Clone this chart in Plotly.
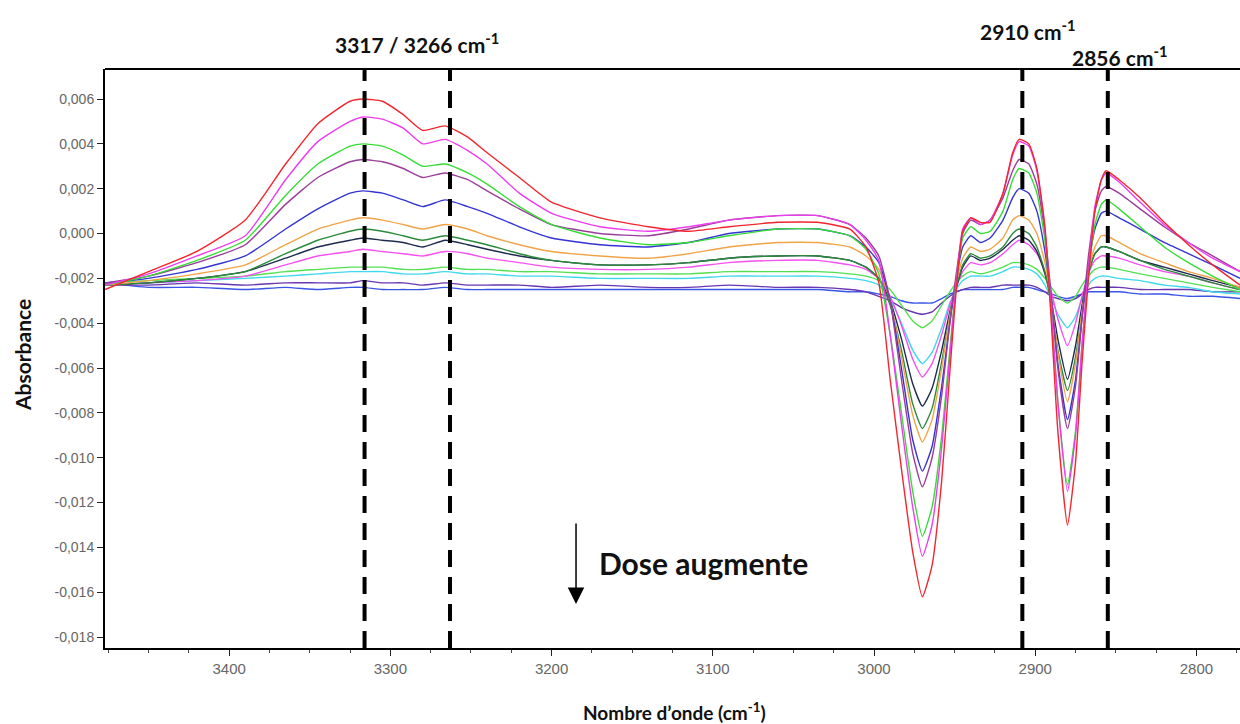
import plotly.graph_objects as go

wavenumber = [3477, 3450, 3420, 3390, 3365, 3345, 3325, 3317, 3305, 3292,
              3280, 3266, 3252, 3240, 3220, 3200, 3170, 3140, 3115, 3090,
              3060, 3035, 3015, 3005, 2997, 2990, 2983, 2976, 2970, 2964,
              2958, 2953, 2949, 2945, 2940, 2934, 2928, 2920, 2914, 2910,
              2904, 2899, 2894, 2890, 2886, 2880, 2875, 2871, 2867, 2863,
              2859, 2856, 2848, 2835, 2820, 2805, 2790, 2773]

red = [-0.0025, -0.0017, -0.0008, 0.0006, 0.0031, 0.0049, 0.0059, 0.0060, 0.0059, 0.0053,
       0.0046, 0.0048, 0.0043, 0.0036, 0.0025, 0.0014, 0.0007, 0.0003, 0.0001, 0.0003,
       0.0005, 0.0005, 0.0002, -0.0006, -0.0022, -0.0065, -0.0105, -0.0142, -0.0162, -0.0148,
       -0.0110, -0.0062, -0.0025, 0.0001, 0.0007, 0.0005, 0.0005, 0.0018, 0.0036, 0.0042,
       0.0040, 0.0029, 0.0003, -0.0040, -0.0088, -0.0130, -0.0102, -0.0058, -0.0020, 0.0010,
       0.0024, 0.0028, 0.0024, 0.0016, 0.0005, -0.0005, -0.0014, -0.0023]

magenta = [-0.0023, -0.0018, -0.0010, -0.0001, 0.0024, 0.0041, 0.0050, 0.0052, 0.0051, 0.0047,
           0.0040, 0.0042, 0.0037, 0.0031, 0.0018, 0.0009, 0.0003, 0.0001, 0.0003, 0.0006,
           0.0008, 0.0008, 0.0004, -0.0003, -0.0012, -0.0045, -0.0085, -0.0122, -0.0144, -0.0130,
           -0.0095, -0.0055, -0.0022, 0.0002, 0.0007, 0.0004, 0.0006, 0.0018, 0.0035, 0.0041,
           0.0039, 0.0028, 0.0002, -0.0035, -0.0075, -0.0115, -0.0090, -0.0050, -0.0015, 0.0012,
           0.0024, 0.0027, 0.0023, 0.0014, 0.0004, -0.0004, -0.0011, -0.0017]

green = [-0.0023, -0.0019, -0.0012, -0.0003, 0.0017, 0.0031, 0.0039, 0.0040, 0.0039, 0.0035,
         0.0030, 0.0031, 0.0027, 0.0022, 0.0012, 0.0004, -0.0002, -0.0005, -0.0004, -0.0001,
         0.0002, 0.0002, -0.0001, -0.0007, -0.0018, -0.0045, -0.0080, -0.0115, -0.0135, -0.0122,
         -0.0090, -0.0052, -0.0022, -0.0002, 0.0003, 0.0000, 0.0001, 0.0010, 0.0024, 0.0029,
         0.0027, 0.0018, -0.0003, -0.0035, -0.0075, -0.0112, -0.0088, -0.0050, -0.0018, 0.0004,
         0.0013, 0.0015, 0.0011, 0.0003, -0.0006, -0.0013, -0.0019, -0.0025]

plum = [-0.0022, -0.0019, -0.0013, -0.0005, 0.0013, 0.0025, 0.0032, 0.0033, 0.0032, 0.0029,
        0.0025, 0.0027, 0.0024, 0.0019, 0.0011, 0.0004, 0.0000, -0.0001, 0.0002, 0.0006,
        0.0008, 0.0008, 0.0004, -0.0002, -0.0010, -0.0030, -0.0065, -0.0098, -0.0113, -0.0100,
        -0.0072, -0.0040, -0.0018, 0.0000, 0.0006, 0.0004, 0.0006, 0.0016, 0.0028, 0.0033,
        0.0031, 0.0022, 0.0000, -0.0028, -0.0060, -0.0087, -0.0068, -0.0038, -0.0010, 0.0010,
        0.0019, 0.0021, 0.0018, 0.0011, 0.0003, -0.0004, -0.0010, -0.0017]

blue = [-0.0022, -0.0020, -0.0016, -0.0010, 0.0002, 0.0011, 0.0018, 0.0019, 0.0018, 0.0015,
        0.0012, 0.0015, 0.0012, 0.0009, 0.0003, -0.0002, -0.0005, -0.0006, -0.0004, 0.0000,
        0.0002, 0.0002, -0.0001, -0.0006, -0.0013, -0.0030, -0.0060, -0.0092, -0.0106, -0.0095,
        -0.0068, -0.0040, -0.0020, -0.0006, -0.0001, -0.0004, -0.0002, 0.0006, 0.0016, 0.0020,
        0.0018, 0.0010, -0.0008, -0.0030, -0.0058, -0.0083, -0.0065, -0.0038, -0.0014, 0.0002,
        0.0009, 0.0010, 0.0007, 0.0002, -0.0004, -0.0009, -0.0014, -0.0020]

orange = [-0.0023, -0.0021, -0.0018, -0.0014, -0.0005, 0.0002, 0.0006, 0.0007, 0.0006, 0.0004,
          0.0002, 0.0004, 0.0002, -0.0001, -0.0005, -0.0008, -0.0010, -0.0011, -0.0009, -0.0006,
          -0.0004, -0.0004, -0.0006, -0.0010, -0.0016, -0.0030, -0.0055, -0.0081, -0.0093, -0.0083,
          -0.0060, -0.0037, -0.0022, -0.0011, -0.0006, -0.0008, -0.0007, -0.0002, 0.0006, 0.0008,
          0.0006, 0.0000, -0.0013, -0.0030, -0.0053, -0.0075, -0.0058, -0.0035, -0.0017, -0.0006,
          -0.0001, -0.0001, -0.0004, -0.0009, -0.0013, -0.0017, -0.0020, -0.0024]

dark_green = [-0.0023, -0.0022, -0.0020, -0.0017, -0.0009, -0.0003, 0.0001, 0.0002, 0.0001, -0.0001,
              -0.0003, -0.0001, -0.0003, -0.0005, -0.0009, -0.0012, -0.0014, -0.0014, -0.0013, -0.0011,
              -0.0010, -0.0010, -0.0012, -0.0015, -0.0020, -0.0032, -0.0052, -0.0076, -0.0087, -0.0078,
              -0.0057, -0.0037, -0.0024, -0.0014, -0.0009, -0.0011, -0.0010, -0.0006, 0.0000, 0.0002,
              0.0000, -0.0006, -0.0017, -0.0032, -0.0052, -0.0070, -0.0055, -0.0035, -0.0018, -0.0009,
              -0.0006, -0.0006, -0.0008, -0.0012, -0.0016, -0.0019, -0.0022, -0.0025]

navy = [-0.0023, -0.0022, -0.0020, -0.0017, -0.0011, -0.0006, -0.0003, -0.0002, -0.0003, -0.0004,
        -0.0006, -0.0003, -0.0005, -0.0007, -0.0010, -0.0012, -0.0014, -0.0014, -0.0013, -0.0011,
        -0.0010, -0.0010, -0.0012, -0.0015, -0.0020, -0.0030, -0.0047, -0.0067, -0.0077, -0.0069,
        -0.0052, -0.0035, -0.0024, -0.0015, -0.0010, -0.0012, -0.0011, -0.0007, -0.0003, -0.0001,
        -0.0003, -0.0008, -0.0018, -0.0030, -0.0047, -0.0065, -0.0050, -0.0032, -0.0017, -0.0009,
        -0.0006, -0.0006, -0.0008, -0.0012, -0.0015, -0.0018, -0.0021, -0.0024]

pink = [-0.0023, -0.0022, -0.0021, -0.0019, -0.0014, -0.0010, -0.0008, -0.0007, -0.0008, -0.0009,
        -0.0010, -0.0008, -0.0009, -0.0011, -0.0013, -0.0015, -0.0016, -0.0016, -0.0015, -0.0013,
        -0.0012, -0.0012, -0.0014, -0.0016, -0.0020, -0.0028, -0.0041, -0.0056, -0.0064, -0.0058,
        -0.0045, -0.0032, -0.0024, -0.0017, -0.0013, -0.0014, -0.0013, -0.0009, -0.0005, -0.0003,
        -0.0005, -0.0009, -0.0017, -0.0026, -0.0038, -0.0050, -0.0040, -0.0028, -0.0018, -0.0012,
        -0.0010, -0.0010, -0.0011, -0.0014, -0.0017, -0.0019, -0.0022, -0.0025]

lime = [-0.0022, -0.0021, -0.0020, -0.0019, -0.0017, -0.0016, -0.0015, -0.0015, -0.0015, -0.0016,
        -0.0016, -0.0015, -0.0016, -0.0016, -0.0017, -0.0017, -0.0018, -0.0018, -0.0018, -0.0017,
        -0.0017, -0.0017, -0.0018, -0.0019, -0.0021, -0.0025, -0.0032, -0.0039, -0.0042, -0.0039,
        -0.0032, -0.0026, -0.0022, -0.0019, -0.0017, -0.0018, -0.0017, -0.0015, -0.0013, -0.0013,
        -0.0014, -0.0016, -0.0020, -0.0024, -0.0028, -0.0031, -0.0028, -0.0023, -0.0019, -0.0016,
        -0.0015, -0.0015, -0.0016, -0.0018, -0.0020, -0.0022, -0.0024, -0.0026]

cyan = [-0.0023, -0.0022, -0.0021, -0.0020, -0.0019, -0.0018, -0.0017, -0.0017, -0.0017, -0.0018,
        -0.0018, -0.0017, -0.0018, -0.0018, -0.0019, -0.0019, -0.0020, -0.0020, -0.0020, -0.0019,
        -0.0019, -0.0019, -0.0020, -0.0021, -0.0023, -0.0029, -0.0040, -0.0052, -0.0058, -0.0053,
        -0.0042, -0.0031, -0.0025, -0.0021, -0.0019, -0.0019, -0.0019, -0.0017, -0.0015, -0.0015,
        -0.0016, -0.0018, -0.0023, -0.0029, -0.0036, -0.0042, -0.0037, -0.0029, -0.0023, -0.0020,
        -0.0019, -0.0019, -0.0020, -0.0021, -0.0023, -0.0024, -0.0026, -0.0027]

violet = [-0.0023, -0.0023, -0.0022, -0.0023, -0.0022, -0.0022, -0.0022, -0.0021, -0.0022, -0.0022,
          -0.0023, -0.0022, -0.0023, -0.0023, -0.0023, -0.0024, -0.0023, -0.0024, -0.0024, -0.0023,
          -0.0024, -0.0024, -0.0025, -0.0026, -0.0028, -0.0030, -0.0033, -0.0035, -0.0036, -0.0035,
          -0.0031, -0.0028, -0.0026, -0.0025, -0.0024, -0.0024, -0.0024, -0.0023, -0.0023, -0.0023,
          -0.0023, -0.0024, -0.0026, -0.0028, -0.0029, -0.0030, -0.0029, -0.0027, -0.0025, -0.0024,
          -0.0024, -0.0024, -0.0024, -0.0025, -0.0025, -0.0025, -0.0026, -0.0026]

blue_flat = [-0.0022, -0.0024, -0.0024, -0.0025, -0.0024, -0.0025, -0.0024, -0.0024, -0.0025, -0.0025,
             -0.0025, -0.0024, -0.0025, -0.0025, -0.0025, -0.0025, -0.0025, -0.0025, -0.0025, -0.0025,
             -0.0025, -0.0025, -0.0026, -0.0026, -0.0027, -0.0028, -0.0030, -0.0031, -0.0031, -0.0031,
             -0.0029, -0.0027, -0.0026, -0.0025, -0.0025, -0.0025, -0.0025, -0.0025, -0.0024, -0.0024,
             -0.0024, -0.0025, -0.0026, -0.0027, -0.0028, -0.0029, -0.0028, -0.0027, -0.0026, -0.0026,
             -0.0026, -0.0026, -0.0026, -0.0027, -0.0027, -0.0028, -0.0028, -0.0029]

series = [
    ("blue_flat", blue_flat, "#3a55e6"),
    ("violet", violet, "#6a35b0"),
    ("cyan", cyan, "#3fd8ec"),
    ("lime", lime, "#52e052"),
    ("pink", pink, "#f550f0"),
    ("navy", navy, "#1d2b4f"),
    ("dark_green", dark_green, "#2c8a3c"),
    ("orange", orange, "#f0a448"),
    ("blue", blue, "#3434d4"),
    ("plum", plum, "#9a3e9a"),
    ("green", green, "#36dc36"),
    ("magenta", magenta, "#ee3cee"),
    ("red", red, "#f2262e"),
]

y_ticks = [0.006, 0.004, 0.002, 0.0, -0.002, -0.004, -0.006, -0.008,
           -0.010, -0.012, -0.014, -0.016, -0.018]
y_tick_text = ["0,006", "0,004", "0,002", "0,000", "-0,002", "-0,004", "-0,006",
               "-0,008", "-0,010", "-0,012", "-0,014", "-0,016", "-0,018"]

marker_lines = [3316, 3263, 2908, 2855]

fig = go.Figure()
for name, vals, col in series:
    assert len(vals) == len(wavenumber), name
    fig.add_trace(go.Scatter(x=wavenumber, y=vals, mode="lines", name=name,
                             line=dict(color=col, width=1.4, shape="spline", smoothing=0.5),
                             showlegend=False, hoverinfo="skip"))

for w in marker_lines:
    fig.add_shape(type="line", xref="x", yref="paper", x0=w, x1=w, y0=0, y1=1,
                  line=dict(color="black", width=4, dash="17px,10px"))

# top frame line
fig.add_shape(type="line", xref="paper", yref="paper", x0=0, x1=1, y0=1, y1=1,
              line=dict(color="black", width=2))

bold = "Lato"
annos = [
    dict(text="<b>3317 / 3266 cm<sup>-1</sup></b>", x=0.275, y=1.045, size=21),
    dict(text="<b>2910 cm<sup>-1</sup></b>", x=0.813, y=1.068, size=21),
    dict(text="<b>2856 cm<sup>-1</sup></b>", x=0.894, y=1.022, size=21),
]
for a in annos:
    fig.add_annotation(text=a["text"], x=a["x"], y=a["y"], xref="paper", yref="paper",
                       showarrow=False, xanchor="center", yanchor="middle",
                       font=dict(family=bold, size=a["size"], color="#111"))

fig.add_annotation(text="<b>Dose augmente</b>", x=0.4335, y=0.1468, xref="paper", yref="paper",
                   showarrow=False, xanchor="left", yanchor="middle",
                   font=dict(family=bold, size=30, color="#111"))
fig.add_annotation(text="", x=0.415, y=0.076, xref="paper", yref="paper",
                   showarrow=True, ax=0, ay=-82, axref="pixel", ayref="pixel",
                   arrowhead=2, arrowsize=2.2, arrowwidth=1.5, arrowcolor="black")

fig.add_annotation(text="<b>Absorbance</b>", x=-0.0731, y=0.506, xref="paper", yref="paper",
                   showarrow=False, textangle=-90, xanchor="center", yanchor="middle",
                   font=dict(family=bold, size=21, color="#111"))
fig.add_annotation(text="<b>Nombre d’onde (cm<sup>-1</sup>)</b>", x=0.502, y=-0.1105,
                   xref="paper", yref="paper", showarrow=False,
                   xanchor="center", yanchor="middle",
                   font=dict(family=bold, size=19, color="#111"))

fig.update_layout(
    width=1240, height=724,
    margin=dict(l=105, r=0, t=69, b=76),
    paper_bgcolor="white", plot_bgcolor="white",
    xaxis=dict(range=[3477, 2773], tickmode="linear", tick0=2800, dtick=100,
               ticks="outside", ticklen=6, tickcolor="#222", tickwidth=1,
               minor=dict(dtick=25, ticks="outside", ticklen=3, tickcolor="#444"),
               showgrid=False, zeroline=False, showline=True, linecolor="black",
               linewidth=2, tickfont=dict(family="Liberation Sans", size=15, color="#666")),
    yaxis=dict(range=[-0.018487, 0.007338], tickmode="array", tickvals=y_ticks,
               ticktext=y_tick_text, ticks="outside", ticklen=6, tickcolor="#222",
               showgrid=False, zeroline=False, showline=True, linecolor="black",
               linewidth=2, tickfont=dict(family="Liberation Sans", size=14, color="#666")),
)

fig.write_html("out.html", config={"displayModeBar": False},
               post_script="document.body.style.margin='0px';document.body.style.overflow='hidden';")
